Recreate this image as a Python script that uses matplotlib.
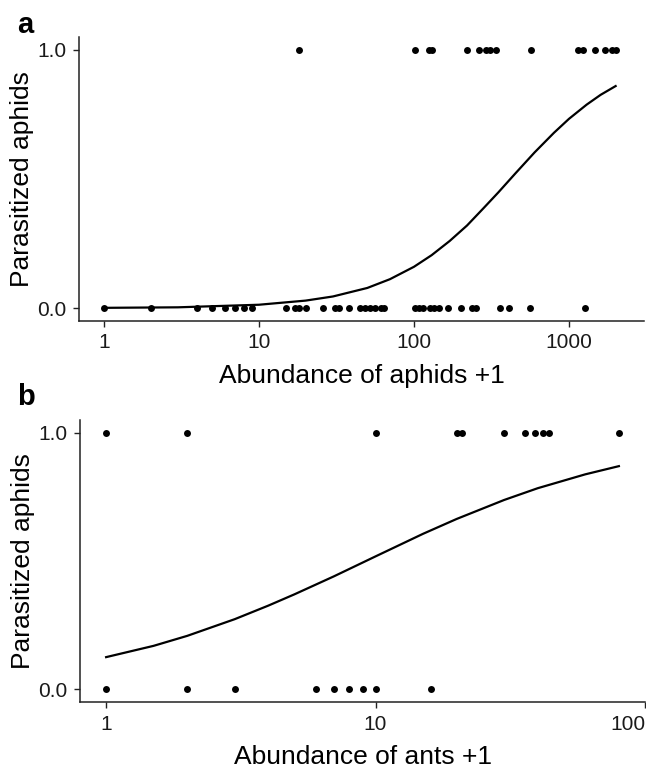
import numpy as np
import matplotlib
matplotlib.use('Agg')
import matplotlib.pyplot as plt

plt.rcParams['font.family'] = ['Liberation Sans', 'DejaVu Sans']

# panel a: abundance of aphids +1, split by outcome
aphids_para = [18, 102, 125, 130, 220, 262, 290, 310, 340, 570, 1150, 1230, 1470, 1700, 1900, 2000]
aphids_free = [1, 2, 4, 5, 6, 7, 8, 9, 15, 17, 18, 20, 26, 31, 33, 38, 45, 48, 52, 56, 61, 64,
               102, 108, 114, 127, 135, 145, 166, 200, 238, 253, 361, 412, 561, 1260]
# fitted curve
curve_a_x = [1, 3, 10, 20, 30, 50, 70, 100, 130, 170, 220, 280, 350, 450, 600, 800, 1000, 1300, 1600, 2000]
curve_a_p = [0.001, 0.003, 0.013, 0.029, 0.045, 0.078, 0.112, 0.16, 0.205, 0.26, 0.32, 0.386,
             0.448, 0.521, 0.603, 0.679, 0.733, 0.788, 0.826, 0.86]

# panel b: abundance of ants +1
ants_para = [1, 2, 10, 20, 21, 30, 36, 39, 42, 44, 80]
ants_free = [1, 2, 3, 6, 7, 8, 9, 10, 16]
curve_b_x = [1, 1.5, 2, 3, 4, 5, 7, 10, 15, 20, 30, 40, 60, 80]
curve_b_p = [0.125, 0.169, 0.208, 0.273, 0.326, 0.37, 0.44, 0.518, 0.606, 0.664, 0.738, 0.784, 0.838, 0.87]

fig = plt.figure(figsize=(6.46, 7.68), dpi=100)

def style_axes(ax, xlim, xticks, xlabel):
    ax.set_xscale('log')
    ax.set_xlim(xlim)
    ax.set_ylim(-0.05, 1.05)
    ax.set_xticks(xticks)
    ax.set_xticklabels([str(t) for t in xticks])
    ax.minorticks_off()
    ax.set_yticks([0, 1])
    ax.set_yticklabels(['0.0', '1.0'])
    for s in ['top', 'right']:
        ax.spines[s].set_visible(False)
    for s in ['left', 'bottom']:
        ax.spines[s].set_linewidth(1.1)
        ax.spines[s].set_color('#222222')
    ax.tick_params(length=4, width=1.0, colors='#222222', labelsize=15, pad=5, labelcolor='#1a1a1a')
    ax.set_xlabel(xlabel, fontsize=19, labelpad=8)
    ax.set_ylabel('Parasitized aphids', fontsize=19, labelpad=2)

ax1 = fig.add_axes([79/646, 1-321/768, 565/646, 284/768])
ax1.plot(curve_a_x, curve_a_p, color='black', lw=1.6, solid_joinstyle='round')
ax1.scatter(aphids_para, [1]*len(aphids_para), s=25, color='black', zorder=3, linewidths=0)
ax1.scatter(aphids_free, [0]*len(aphids_free), s=25, color='black', zorder=3, linewidths=0)
style_axes(ax1, (0.69, 3048), [1, 10, 100, 1000], 'Abundance of aphids +1')

ax2 = fig.add_axes([80/646, 1-702/768, 565/646, 282/768])
ax2.plot(curve_b_x, curve_b_p, color='black', lw=1.6, solid_joinstyle='round')
ax2.scatter(ants_para, [1]*len(ants_para), s=25, color='black', zorder=3, linewidths=0)
ax2.scatter(ants_free, [0]*len(ants_free), s=25, color='black', zorder=3, linewidths=0)
style_axes(ax2, (0.80, 100), [1, 10, 100], 'Abundance of ants +1')
ax2.get_xticklabels()[-1].set_ha('right')

fig.text(17/646, 1-33/768, 'a', fontsize=21, fontweight='bold', va='baseline')
fig.text(17/646, 1-405/768, 'b', fontsize=21, fontweight='bold', va='baseline')

fig.savefig('out.png', dpi=100)
